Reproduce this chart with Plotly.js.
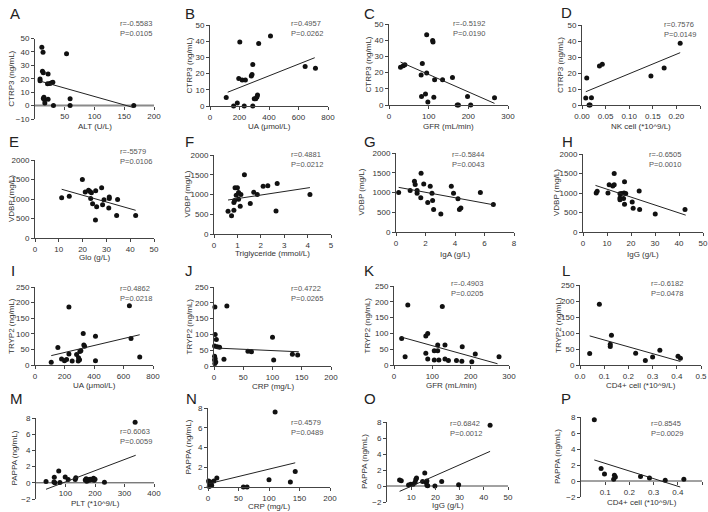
<!DOCTYPE html>
<html><head><meta charset="utf-8">
<script src="https://cdn.plot.ly/plotly-3.0.1.min.js"></script>
<style>html,body{margin:0;padding:0;background:#fff}#chart{width:708px;height:512px}</style>
</head><body><div id="chart"></div>
<script>
// ---- data ----
const panelLetters = ['A','B','C','D','E','F','G','H','I','J','K','L','M','N','O','P'];
const statTexts = ['r=-0.5583<br>P=0.0105','r=0.4957<br>P=0.0262','r=-0.5192<br>P=0.0190','r=0.7576<br>P=0.0149',
 'r=-5579<br>P=0.0106','r=0.4881<br>P=0.0212','r=-0.5844<br>P=0.0043','r=-0.6505<br>P=0.0010',
 'r=0.4862<br>P=0.0218','r=0.4722<br>P=0.0265','r=-0.4903<br>P=0.0205','r=-0.6182<br>P=0.0478',
 'r=0.6063<br>P=0.0059','r=0.4579<br>P=0.0489','r=0.6842<br>P=0.0012','r=0.8545<br>P=0.0029'];
const xTitles = ['ALT (U/L)','UA (μmol/L)','GFR (mL/min)','NK cell (*10^9/L)',
 'Glo (g/L)','Triglyceride (mmol/L)','IgA (g/L)','IgG (g/L)',
 'UA (μmol/L)','CRP (mg/L)','GFR (mL/min)','CD4+ cell (*10^9/L)',
 'PLT (*10^9/L)','CRP (mg/L)','IgG (g/L)','CD4+ cell (*10^9/L)'];
const yTitles = ['CTRP3 (ng/mL)','CTRP3 (ng/mL)','CTRP3 (ng/mL)','CTRP3 (ng/mL)',
 'VDBP (mg/L)','VDBP (mg/L)','VDBP (mg/L)','VDBP (mg/L)',
 'TRYP2 (ng/mL)','TRYP2 (ng/mL)','TRYP2 (ng/mL)','TRYP2 (ng/mL)',
 'PAPPA (ng/mL)','PAPPA (ng/mL)','PAPPA (ng/mL)','PAPPA (ng/mL)'];

const aX=[11.5,13.5,53,12.5,14,22,8.5,8.5,21,25,28,30,15,14,16,22,16.5,31,59,59,166];
const aY=[43.5,39.8,38.6,25.5,24.5,23.5,19.8,18.5,16.2,16.5,17,17.3,6.3,5.3,4.3,4.8,2,0,5,0,0];
const aFitX=[8,166], aFitY=[18.3,-1.5];

const bX=[110,160,185,195,202,218,240,232,280,285,290,290,300,310,318,322,330,410,645,715];
const bY=[5.3,0,1.8,17,39.5,16,16,0,18.5,19.5,25.6,0,4.5,4.5,5.5,6.8,38.6,43.2,24.4,23.3];
const bFitX=[120,710], bFitY=[8.5,29.8];

const cX=[29,36,40,95,110,111,84,95,81,82,92,98,115,135,160,113,172,175,206,198,266];
const cY=[23.3,24.2,24.8,43.3,39.8,38.9,25.6,19.8,18.5,5.2,6.8,1.8,15.6,15.6,17,4.8,0,0,0,5.3,4.5];
const cFitX=[29,266], cFitY=[26.5,1];

const dX=[0.008,0.010,0.015,0.017,0.020,0.037,0.043,0.146,0.174,0.208];
const dY=[4.3,16.8,0,0,4.6,24.3,25.4,18.1,23.2,38.6];
const dFitX=[0.008,0.208], dFitY=[8.3,32.7];

const eX=[11.2,14.4,19.9,21.1,22.5,23.1,23.7,23.4,24.2,25.5,25.9,25.4,28,28.4,29,31.2,31.2,31,34.7,34.3,42.3];
const eY=[1029,1072,1500,1180,1226,1192,1160,1010,880,1210,800,460,1290,850,980,1050,1010,770,990,580,580];
const eFitX=[11.2,42.3], eFitY=[1250,710];

const fX=[0.6,0.75,0.85,0.85,0.88,0.9,0.95,1.0,1.05,1.05,1.12,1.15,1.3,1.55,1.7,1.85,2.1,2.3,2.65,2.7,4.1];
const fY=[575,460,600,800,850,1170,980,1170,1050,880,700,1000,1500,770,1060,1000,1210,1220,580,1280,1000];
const fFitX=[0.6,4.1], fFitY=[860,1175];

const gX=[0.18,0.96,1.25,1.3,1.43,1.43,1.68,1.7,1.88,2.15,2.32,2.44,2.48,2.55,3.04,3.75,3.9,4.2,4.3,4.4,5.72,6.6];
const gY=[1000,1050,1286,1200,1050,983,866,1487,1218,748,1160,983,798,571,454,1160,983,840,571,605,1000,697];
const gFitX=[0.18,6.6], gFitY=[1130,690];

const hX=[5.5,5.9,10.4,10.9,12.4,13,13,15.4,15.4,15.4,16.1,17.1,17.8,17.3,16.9,17.3,20.5,20.9,23.4,23.6,30.1,42.5];
const hY=[1000,1042,1000,1210,1178,1212,1500,870,830,980,990,1000,990,1290,856,712,770,610,1050,575,460,580];
const hFitX=[5.2,42.8], hFitY=[1195,432];

const iX=[110,155,230,180,200,214,230,252,282,293,295,302,304,311,327,331,336,410,410,640,651,710];
const iY=[8.5,56,186,19,14,18,35,13,34,13,23,17,43,46,101,64,60,92,14,190,85,26];
const iFitX=[110,710], iFitY=[30,97];

const jX=[1.5,22,2,4,1,5.5,9.5,1,2,1,3,1.5,17,58,64,100,102,134,143];
const jY=[187,190,100,84,63,61,59,31,23,19,13,8,21,47,45,91,19,37,35];
const jFitX=[1,145], jFitY=[57,45];

const kX=[20,29,36,83,88,83,88,105,105,114,114,117,126,133,133,142,163,177,178,203,212,274];
const kY=[84,26,190,92,100,37,19,16,45,63,45,16,185,63,19,14,14,12,58,10,35,26];
const kFitX=[20,270], kFitY=[88,4];

const lX=[0.04,0.08,0.125,0.13,0.125,0.23,0.27,0.30,0.33,0.405,0.415];
const lY=[36,190,58,93,65,37,14,25,46,27,21];
const lFitX=[0.04,0.415], lFitY=[91,11];

const mX=[34,62,61,64,77,81,99,109,133,135,167,170,172,175,180,184,188,195,197,200,232,336];
const mY=[0.17,0.67,0.1,0,1.47,0.04,0.71,0.42,0.42,0.63,0.35,0.5,0.2,0.4,0.3,0.45,0.4,0.55,0.3,0.45,0.08,7.48];
const mFitX=[34,338], mFitY=[-0.8,3.4];

const nX=[1,2,3,5,6,2,4,9.7,14.5,58,64,100,110,135,143];
const nY=[0.6,0.4,0.25,0.35,0.15,0.05,0.5,0.6,0.9,0,0,0.74,7.6,0.5,1.58];
const nFitX=[1,143], nFitY=[0.33,2.45];

const oX=[5.2,5.9,8.9,9.8,10.8,11.6,11.9,12.2,14.7,15.6,16.1,16.5,16.8,16.5,19.8,22.6,29.6,42.6];
const oY=[0.76,0.67,0.13,0.21,0.21,0.46,0.8,1.0,0.55,1.64,0.46,0.63,0.04,0.1,0,0.55,0.17,7.6];
const oFitX=[5.2,42.6], oFitY=[-0.67,4.33];

const pX=[0.055,0.083,0.097,0.135,0.138,0.142,0.246,0.283,0.348,0.425];
const pY=[7.67,1.57,0.89,0.21,0.72,0.51,0.55,0.38,0.08,0.21];
const pFitX=[0.055,0.41], pFitY=[2.63,-0.75];

const xs=[aX,bX,cX,dX,eX,fX,gX,hX,iX,jX,kX,lX,mX,nX,oX,pX];
const ys=[aY,bY,cY,dY,eY,fY,gY,hY,iY,jY,kY,lY,mY,nY,oY,pY];
const fxs=[aFitX,bFitX,cFitX,dFitX,eFitX,fFitX,gFitX,hFitX,iFitX,jFitX,kFitX,lFitX,mFitX,nFitX,oFitX,pFitX];
const fys=[aFitY,bFitY,cFitY,dFitY,eFitY,fFitY,gFitY,hFitY,iFitY,jFitY,kFitY,lFitY,mFitY,nFitY,oFitY,pFitY];

// ---- layout geometry (pixels) ----
const W=708,H=512;
// [xLeftPx,xRightPx,yTopPx,yBottomPx, xRange, yRange, xDtick, yDtick, xFormat, xAtZero]
const geo=[
 [35,154,38.5,119,[0,200],[-10,50],50,10,'',true],
 [210,328,25,106,[0,800],[0,50],200,10,'',false],
 [389,508,24,105,[0,300],[0,50],100,10,'',false],
 [582,700,25,105,[0,0.25],[0,50],0.05,10,'.2f',false],
 [35,154,160,238,[0,50],[0,2000],10,500,'',false],
 [214,331,155,234,[0,5],[0,2000],1,500,'',false],
 [396,514,153,232,[0,8],[0,2000],2,500,'',false],
 [583,703,154,232,[0,50],[0,2000],10,500,'',false],
 [35,153,287,365,[0,800],[0,250],200,50,'',false],
 [214,331,287,366,[0,200],[0,250],50,50,'',false],
 [394,509,286,365,[0,300],[0,250],100,50,'',false],
 [580,701,285,365,[0,0.5],[0,250],0.1,50,'.1f',false],
 [36,154,418,499,[0,400],[-2,8],100,2,'',true],
 [208,330,408,487,[0,200],[0,8],50,2,'',false],
 [387,508,422,502,[0,50],[-2,8],10,2,'',true],
 [581,702,417,497,[0,0.5],[-2,8],0.1,2,'.1f',true]
];
const letterPos=[[15,13],[190,13],[369,13],[566,12],[14,141],[189,141],[370,141],[567,141],
 [13,270],[189,270],[369,270],[566,270],[16,398],[191,398],[370,398],[566,398]];
const statPos=[[118,28],[289,28],[451,28],[662,29],[118,156],[289,159],[450,159],[647,159],
 [118,293],[289,293],[449,288],[649,288],[118,436],[289,427],[448,428],[649,428]];
const yTitleX=[12,189,368,560,11,187,361,556,11,189,367,558,14,188,364,557];
const xTitleY=[126,126,126,126,257,253,254,254,385,386,385,385,503,506,505,502];

const FONT='Liberation Sans, Arial, sans-serif';
const px2x=p=>p/W, px2y=p=>1-p/H;

const traces=[], annotations=[], shapes=[];
const layout={width:W,height:H,margin:{l:0,r:0,t:0,b:0},paper_bgcolor:'#fff',plot_bgcolor:'rgba(0,0,0,0)',
  showlegend:false,font:{family:FONT,size:8,color:'#333'}};

function ticks(r,dt,hide0){const v=[];const n=Math.round((r[1]-r[0])/dt);for(let k=0;k<=n;k++){const t=+(r[0]+k*dt).toFixed(6);if(hide0&&t===0)continue;v.push(t);}return v;}

geo.forEach((g,i)=>{
  const [xl,xr,yt,yb,xR,yR,xdt,ydt,xf,atZero]=g;
  const sfx=i===0?'':String(i+1);
  const xa='x'+sfx, ya='y'+sfx;
  const yd=[px2y(yb),px2y(yt)];
  const xAx={domain:[px2x(xl),px2x(xr)],range:xR,showgrid:false,zeroline:false,showline:!atZero,
    linecolor:'#444',linewidth:1,ticks:'outside',ticklen:3,tickwidth:1,tickcolor:'#444',
    tickmode:'array',tickvals:ticks(xR,xdt,atZero),tickformat:xf,tickfont:{family:FONT,size:8,color:'#333'},anchor:ya,fixedrange:true};
  if(atZero){
    xAx.anchor='free';xAx.position=yd[0]+(0-yR[0])/(yR[1]-yR[0])*(yd[1]-yd[0]);
    shapes.push({type:'line',xref:xa+' domain',yref:ya,x0:0,x1:1,y0:0,y1:0,layer:'below',
      line:{color:i===0?'#8a8a8a':'#444',width:i===0?2:1}});
  }
  const yAx={domain:yd,range:yR,showgrid:false,zeroline:false,
    showline:true,linecolor:'#444',linewidth:1,
    ticks:'outside',ticklen:3,tickwidth:1,tickcolor:'#444',tickmode:'array',tickvals:ticks(yR,ydt,false),
    tickfont:{family:FONT,size:8,color:'#333'},anchor:xa,fixedrange:true};
  layout['xaxis'+sfx]=xAx; layout['yaxis'+sfx]=yAx;
  traces.push({type:'scatter',mode:'markers',x:xs[i],y:ys[i],xaxis:xa,yaxis:ya,cliponaxis:false,
    marker:{size:5,color:'#111'},hoverinfo:'skip'});
  traces.push({type:'scatter',mode:'lines',x:fxs[i],y:fys[i],xaxis:xa,yaxis:ya,cliponaxis:false,
    line:{color:'#222',width:1},hoverinfo:'skip'});
  annotations.push({xref:'paper',yref:'paper',x:px2x(letterPos[i][0]),y:px2y(letterPos[i][1]),text:panelLetters[i],
    showarrow:false,xanchor:'center',yanchor:'middle',font:{family:FONT,size:15,color:'#222'}});
  annotations.push({xref:'paper',yref:'paper',x:px2x(statPos[i][0]),y:px2y(statPos[i][1]),text:statTexts[i],
    showarrow:false,xanchor:'left',yanchor:'middle',align:'left',font:{family:FONT,size:7.5,color:'#555'}});
  annotations.push({xref:'paper',yref:'paper',x:px2x((xl+xr)/2),y:px2y(xTitleY[i]),text:xTitles[i],
    showarrow:false,xanchor:'center',yanchor:'middle',font:{family:FONT,size:8,color:'#333'}});
  annotations.push({xref:'paper',yref:'paper',x:px2x(yTitleX[i]),y:px2y((yt+yb)/2),text:yTitles[i],textangle:-90,
    showarrow:false,xanchor:'center',yanchor:'middle',font:{family:FONT,size:8,color:'#333'}});
});
layout.annotations=annotations;
layout.shapes=shapes;
Plotly.newPlot('chart',traces,layout,{staticPlot:true,displayModeBar:false});
</script></body></html>
